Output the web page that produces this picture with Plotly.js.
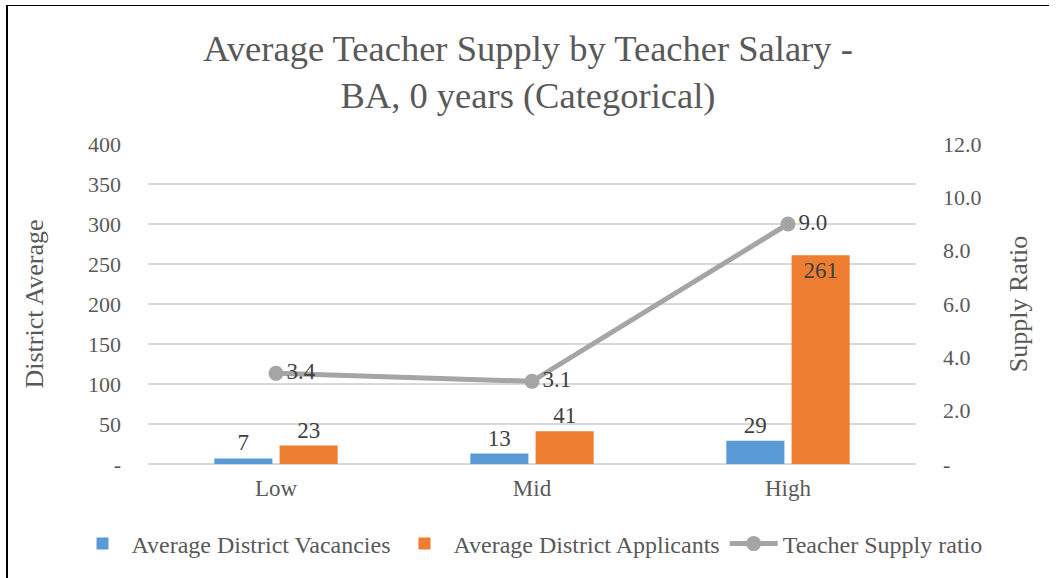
<!DOCTYPE html>
<html>
<head>
<meta charset="utf-8">
<script src="https://cdn.plot.ly/plotly-3.0.1.min.js"></script>
<style>
  html, body { margin: 0; padding: 0; background: #fff; }
  #chart { width: 1056px; height: 578px; position: relative; }
  #frame { position: absolute; left: 6px; top: 5px; width: 1041px; height: 600px;
           border-top: 1.5px solid #000; border-left: 2px solid #000; pointer-events: none; }
</style>
</head>
<body>
<div id="chart"></div>
<div id="frame"></div>
<script>
// ---- data ----
const categories = ['Low', 'Mid', 'High'];
const vacancies = [7, 13, 29];
const applicants = [23, 41, 261];
const supplyRatio = [3.4, 3.1, 9.0];
const leftTickVals = [0, 50, 100, 150, 200, 250, 300, 350, 400];
const leftTickText = ['-', '50', '100', '150', '200', '250', '300', '350', '400'];
const rightTickVals = [0, 2, 4, 6, 8, 10, 12];
const rightTickText = ['-', '2.0', '4.0', '6.0', '8.0', '10.0', '12.0'];

const FONT = 'Liberation Serif, Times New Roman, serif';
const GRAY = '#595959';
const LABEL = '#404040';

const traces = [
  {
    type: 'bar', name: 'Average District Vacancies', x: categories, y: vacancies,
    marker: { color: '#5B9BD5' },
    text: vacancies.map(String), textposition: 'outside',
    textfont: { family: FONT, size: 23, color: LABEL },
    cliponaxis: false
  },
  {
    type: 'bar', name: 'Average District Applicants', x: categories, y: applicants,
    marker: { color: '#ED7D31' },
    text: applicants.map(String),
    textposition: applicants.map(v => v > 100 ? 'inside' : 'outside'),
    insidetextanchor: 'end',
    textfont: { family: FONT, size: 23, color: LABEL },
    insidetextfont: { family: FONT, size: 23, color: LABEL },
    outsidetextfont: { family: FONT, size: 23, color: LABEL },
    cliponaxis: false
  },
  {
    type: 'scatter', mode: 'lines+markers+text', name: 'Teacher Supply ratio',
    x: categories, y: supplyRatio, yaxis: 'y2',
    line: { color: '#A5A5A5', width: 5 },
    marker: { color: '#A5A5A5', size: 15 },
    text: supplyRatio.map(v => v.toFixed(1)), textposition: 'middle right',
    textfont: { family: FONT, size: 23, color: LABEL },
    cliponaxis: false
  }
];

const layout = {
  width: 1056, height: 578,
  paper_bgcolor: 'rgba(0,0,0,0)', plot_bgcolor: '#fff',
  margin: { l: 148, r: 140, t: 144, b: 114, autoexpand: false },
  font: { family: FONT, size: 22, color: GRAY },
  title: {
    text: 'Average Teacher Supply by Teacher Salary -<br>BA, 0 years (Categorical)',
    font: { family: FONT, size: 36.5, color: GRAY },
    x: 0.5, xanchor: 'center', y: 0.895, yanchor: 'top'
  },
  barmode: 'group', bargap: 0.49, bargroupgap: 0.11,
  xaxis: {
    type: 'category', showgrid: false, zeroline: false,
    showline: false, ticks: '', ticklabelstandoff: 8,
    tickfont: { family: FONT, size: 23, color: GRAY }
  },
  yaxis: {
    range: [0, 400], tickvals: leftTickVals, ticktext: leftTickText,
    showgrid: true, gridcolor: '#D9D9D9', gridwidth: 1.5,
    zeroline: true, zerolinecolor: '#D9D9D9', zerolinewidth: 1.5,
    showline: false, ticks: '', ticklabelstandoff: 26,
    tickfont: { family: FONT, size: 22, color: GRAY },
    title: { text: 'District Average', font: { family: FONT, size: 26, color: GRAY }, standoff: 36 }
  },
  yaxis2: {
    overlaying: 'y', side: 'right', range: [0, 12],
    tickvals: rightTickVals, ticktext: rightTickText,
    showgrid: false, zeroline: false, showline: false, ticks: '',
    ticklabelstandoff: 26,
    tickfont: { family: FONT, size: 22, color: GRAY },
    title: { text: 'Supply Ratio', font: { family: FONT, size: 26, color: GRAY }, standoff: 28 }
  },
  showlegend: true,
  legend: {
    orientation: 'h', x: -0.097, xanchor: 'left', y: -0.25, yanchor: 'middle',
    font: { family: FONT, size: 24, color: GRAY }, itemwidth: 48
  },
  hovermode: false
};

Plotly.newPlot('chart', traces, layout, { displayModeBar: false, staticPlot: true });
</script>
</body>
</html>
